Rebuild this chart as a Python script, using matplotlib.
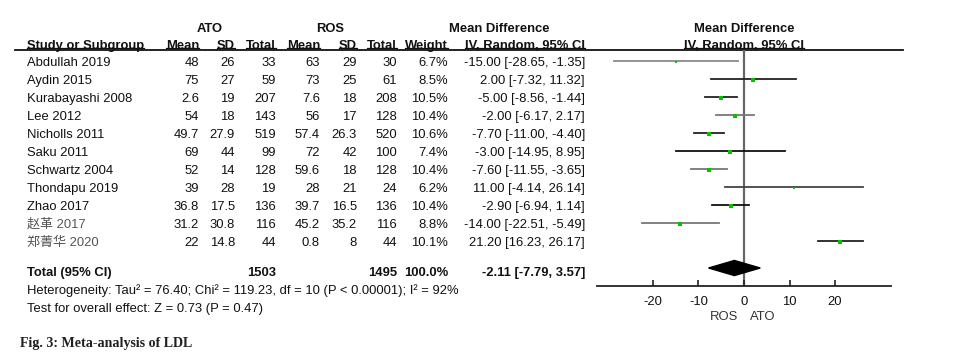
import matplotlib
matplotlib.use("Agg")
import matplotlib.pyplot as plt
from matplotlib.patches import Polygon

# study data
studies = ["Abdullah 2019", "Aydin 2015", "Kurabayashi 2008", "Lee 2012",
           "Nicholls 2011", "Saku 2011", "Schwartz 2004", "Thondapu 2019",
           "Zhao 2017", "赵革 2017", "郑菁华 2020"]
ato_mean = [48, 75, 2.6, 54, 49.7, 69, 52, 39, 36.8, 31.2, 22]
ato_sd = [26, 27, 19, 18, 27.9, 44, 14, 28, 17.5, 30.8, 14.8]
ato_n = [33, 59, 207, 143, 519, 99, 128, 19, 136, 116, 44]
ros_mean = [63, 73, 7.6, 56, 57.4, 72, 59.6, 28, 39.7, 45.2, 0.8]
ros_sd = [29, 25, 18, 17, 26.3, 42, 18, 21, 16.5, 35.2, 8]
ros_n = [30, 61, 208, 128, 520, 100, 128, 24, 136, 116, 44]
weight = [6.7, 8.5, 10.5, 10.4, 10.6, 7.4, 10.4, 6.2, 10.4, 8.8, 10.1]
md = [-15.00, 2.00, -5.00, -2.00, -7.70, -3.00, -7.60, 11.00, -2.90, -14.00, 21.20]
ci_lo = [-28.65, -7.32, -8.56, -6.17, -11.00, -14.95, -11.55, -4.14, -6.94, -22.51, 16.23]
ci_hi = [-1.35, 11.32, -1.44, 2.17, -4.40, 8.95, -3.65, 26.14, 1.14, -5.49, 26.17]

total_ato = 1503
total_ros = 1495
total_weight = 100.0
total_md, total_lo, total_hi = -2.11, -7.79, 3.57
heterogeneity = "Heterogeneity: Tau² = 76.40; Chi² = 119.23, df = 10 (P < 0.00001); I² = 92%"
overall = "Test for overall effect: Z = 0.73 (P = 0.47)"
xticks = [-20, -10, 0, 10, 20]

# line shades of the CI whiskers
line_colors = ["#8a8a8a", "#222222", "#222222", "#777777", "#222222", "#111111",
               "#777777", "#444444", "#111111", "#777777", "#222222"]

W, H = 967, 360
fig = plt.figure(figsize=(W / 100, H / 100), dpi=100)
bg = fig.add_axes([0, 0, 1, 1])
bg.set_xlim(0, W)
bg.set_ylim(H, 0)
bg.axis("off")

fam = ["Liberation Sans", "Noto Sans CJK SC"]
fs = 9.4
tc = "#111111"
base = 4.6  # offset from visual centre to baseline, px


def txt(x, y, s, ha="right", bold=False, color=tc):
    return bg.text(x, y + base, s, ha=ha, va="baseline", fontsize=fs, family=fam,
                   fontweight="bold" if bold else "normal", color=color)


def num(v):
    return f"{v:g}"


# column right edges (pixels)
cols = [199, 235, 276, 320, 357, 397, 448, 585]
name_x = 27

# headers
txt(210, 27, "ATO", ha="center", bold=True)
txt(330, 27, "ROS", ha="center", bold=True)
txt(499, 27, "Mean Difference", ha="center", bold=True)
txt(744, 27, "Mean Difference", ha="center", bold=True)
header_y = 44
heads = [("Study or Subgroup", name_x, "left"), ("Mean", cols[0], "right"),
         ("SD", cols[1], "right"), ("Total", cols[2], "right"), ("Mean", cols[3], "right"),
         ("SD", cols[4], "right"), ("Total", cols[5], "right"), ("Weight", cols[6], "right"),
         ("IV, Random, 95% CI", cols[7], "right"), ("IV, Random, 95% CI", 744, "center")]
r = fig.canvas.get_renderer()
for s, x, ha in heads:
    t = txt(x, header_y, s, ha=ha, bold=True)
    bb = t.get_window_extent(renderer=r)
    bg.plot([bb.x0, bb.x1], [47.8, 47.8], color=tc, lw=0.9)
bg.plot([15, 903], [50, 50], color="#111111", lw=1.3)

# rows
for i, s in enumerate(studies):
    y = 61 + 18 * i
    cjk = not s[0].isascii()
    txt(name_x, y, s, ha="left", color="#555555" if cjk else tc)
    vals = [num(ato_mean[i]), num(ato_sd[i]), str(ato_n[i]), num(ros_mean[i]),
            num(ros_sd[i]), str(ros_n[i]), f"{weight[i]:.1f}%",
            f"{md[i]:.2f} [{ci_lo[i]:.2f}, {ci_hi[i]:.2f}]"]
    for x, v in zip(cols, vals):
        txt(x, y, v)

ty = 271
txt(name_x, ty, "Total (95% CI)", ha="left", bold=True)
txt(cols[2], ty, str(total_ato), bold=True)
txt(cols[5], ty, str(total_ros), bold=True)
txt(cols[6], ty, f"{total_weight:.1f}%", bold=True)
txt(cols[7], ty, f"{total_md:.2f} [{total_lo:.2f}, {total_hi:.2f}]", bold=True)
txt(name_x, 289, heterogeneity, ha="left")
txt(name_x, 307, overall, ha="left")

bg.text(20, 343, "Fig. 3: Meta-analysis of LDL", ha="left", va="center", fontsize=10.1,
        family="Liberation Serif", fontweight="bold", color="#1f1f1f")

# forest plot
ax = fig.add_axes([597 / W, 1 - 286 / H, 294 / W, 236 / H])
ax.set_xlim(-32.3, 32.3)
ax.set_ylim(12.5, -0.62)
for sp in ["top", "left", "right"]:
    ax.spines[sp].set_visible(False)
ax.spines["bottom"].set_linewidth(1.3)
ax.spines["bottom"].set_color("#222222")
ax.set_yticks([])
ax.set_xticks(xticks)
ax.set_xticklabels([str(t) for t in xticks], family=fam, fontsize=fs, color=tc)
ax.tick_params(axis="x", direction="in", length=4, width=1.2, pad=7, color="#222222")
ax.patch.set_alpha(0)
ax.axvline(0, color="#666666", lw=1.6, zorder=1)

for i in range(len(studies)):
    ax.plot([ci_lo[i], ci_hi[i]], [i, i], color=line_colors[i], lw=1.3, zorder=2)
    ax.plot(md[i], i + 0.06, marker="s", color="#00c400", ms=weight[i] * 0.32,
            mew=0, zorder=3)

dy = (268 - 61) / 18
dh = 0.42
diamond = Polygon([[total_lo, dy], [total_md, dy - dh], [total_hi, dy], [total_md, dy + dh]],
                  closed=True, color="black", zorder=3)
ax.add_patch(diamond)

txt(724, 315, "ROS", ha="center", color="#333333")
txt(763, 315, "ATO", ha="center", color="#333333")

fig.savefig("out.png", dpi=100)
